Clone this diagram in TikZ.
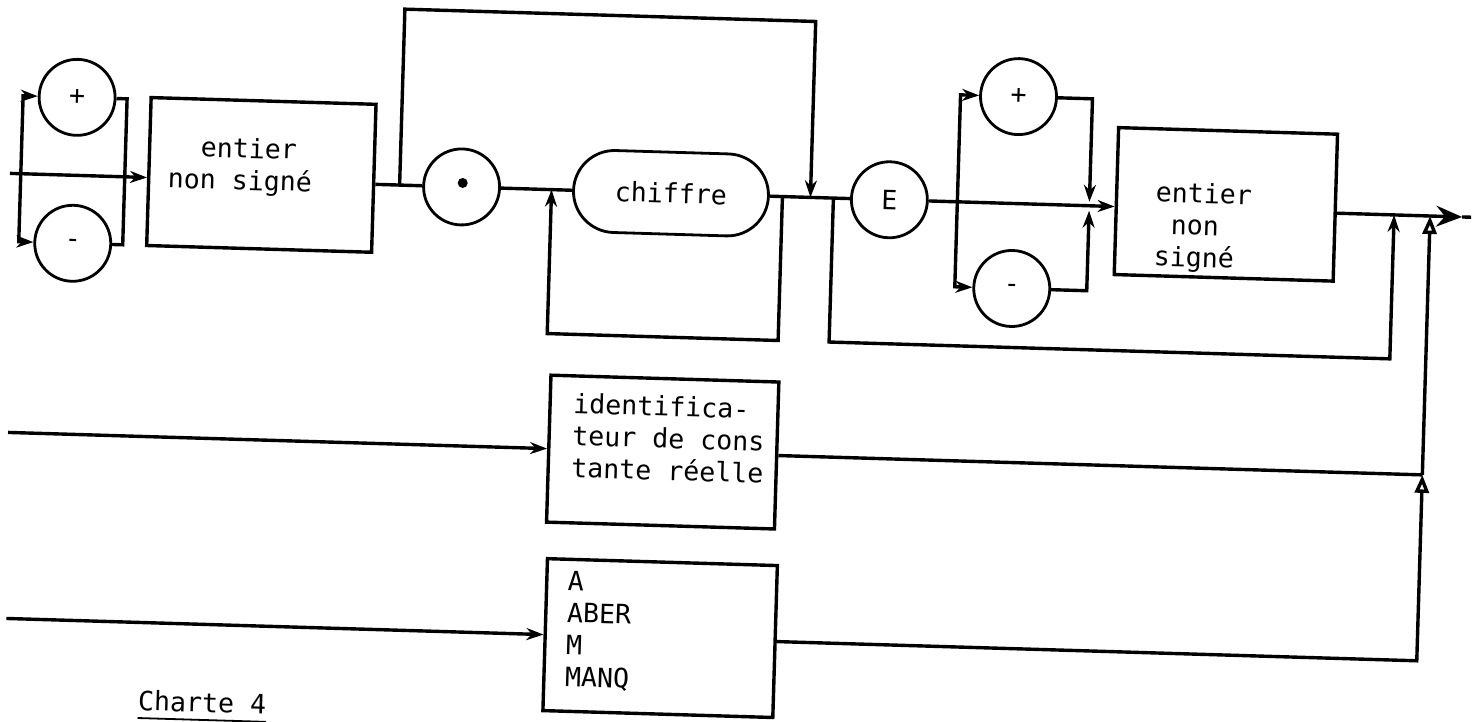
\documentclass[tikz,border=0pt]{standalone}
\usepackage{fontspec}
\newfontfamily\typw{DejaVu Sans Mono}
\usetikzlibrary{arrows.meta,calc}
\newcommand\chfont{\typw\fontsize{26.6pt}{32pt}\selectfont}
\newcommand\tlines[1]{\vtop{\baselineskip=32pt\lineskiplimit=-100pt #1}}
\tikzset{
  ln/.style={line width=3.4pt, line join=miter},
  arr/.style={ln, -{Stealth[length=17pt,width=12pt]}},
  colarr/.style={ln, -{Triangle[open,length=18pt,width=14pt]}},
  exitarr/.style={ln, -{Stealth[length=26pt,width=21pt,inset=9pt]}},
  circ/.style={draw, circle, line width=2.8pt, minimum size=76pt, inner sep=0pt, font=\chfont},
  box/.style={draw, rectangle, line width=3.4pt, inner sep=0pt},
  txt/.style={font=\chfont, inner sep=0pt, anchor=base west},
}
\begin{document}
\begin{tikzpicture}[x=1pt,y=-1pt]
\useasboundingbox (0,0) rectangle (1482,721);
\begin{scope}[transform canvas={rotate=-1.72}]
% ---------- first sign group ----------
\node[circ] (p1) at (80,95) {+};
\node[circ] (m1) at (80,241) {-};
\node[box, minimum width=225pt, minimum height=148pt] (b1) at (266.5,167) {};
\node[txt] (b1t) at (173,150.5) {\tlines{\hbox{\phantom{nn}entier}\hbox{non signé}}};
\coordinate (in1) at (15,173);
\coordinate (sL) at (26,173);
\coordinate (sR) at (130,173);
\draw[arr] (in1) -- (in1 -| b1.west);
\draw[arr] (sL) |- (p1.west);
\draw[arr] (sL) |- (m1.west);
\draw[ln] (p1.east) -| (sR);
\draw[ln] (m1.east) -| (sR);
% ---------- dot and digits ----------
\coordinate (j1) at (405,173);
\coordinate (t1) at (405,-3);
\coordinate (jr1) at (816,173);
\node[circ] (dot) at (467,173) {};
\fill (468,169) circle (5);
\node[draw, rounded corners=41pt, line width=2.8pt, minimum width=195pt, minimum height=82pt, inner sep=0pt, font=\chfont] (ch) at (676.5,173) {chiffre};
\draw[ln] (b1.east |- j1) -- (dot.west);
\draw[arr] (j1) -- (t1) -| (jr1);
\draw[ln] (dot.east) -- (ch.west);
\coordinate (lp1) at (557,173);
\coordinate (lp2) at (788,173);
\coordinate (lb) at (788,317);
\draw[arr] (lp2) -- (lb) -| (lp1);
% ---------- exponent ----------
\node[circ] (E) at (895,173) {E};
\draw[ln] (ch.east) -- (E.west);
\coordinate (j2) at (839,173);
\coordinate (j2b) at (839,317);
\coordinate (jr2) at (1400,173);
\draw[arr] (j2) -- (j2b) -| (jr2);
\node[circ] (p2) at (1021,66) {+};
\node[circ] (m2) at (1020,258) {-};
\coordinate (s2L) at (963,173);
\coordinate (s2Ra) at (1095,169);
\coordinate (s2Rb) at (1095,178);
\draw[arr] (s2L) |- (p2.west);
\draw[arr] (s2L) |- (m2.west);
\draw[arr] (p2.east) -| (s2Ra);
\draw[arr] (m2.east) -| (s2Rb);
\node[box, minimum width=219pt, minimum height=147pt] (b2) at (1231.5,167.5) {};
\node[txt] (b2t) at (1161,167) {\tlines{\hbox{entier}\hbox{\phantom{n}non}\hbox{signé}}};
\draw[arr] (E.east) -- (E.east -| b2.west);
% ---------- exit ----------
\coordinate (outA) at (1468,173);
\coordinate (out) at (1477,173);
\draw[exitarr] (b2.east |- out) -- (outA);
\draw[ln] (outA) -- (out);
% ---------- lower alternatives ----------
\node[box, minimum width=228pt, minimum height=147pt] (id) at (676,432) {};
\node[txt] (idt) at (585,396) {\tlines{\hbox{identifica-}\hbox{teur de cons}\hbox{tante réelle}}};
\node[box, minimum width=230pt, minimum height=152pt] (ab) at (679,618) {};
\node[txt] (abt) at (585,573) {\tlines{\hbox{A}\hbox{ABER}\hbox{M}\hbox{MANQ}}};
\coordinate (in2) at (21,432);
\coordinate (in3) at (25,618);
\coordinate (cTop) at (1436,173);
\coordinate (cMid) at (1436,432);
\coordinate (cBot) at (1436,618);
\draw[arr] (in2) -- (in2 -| id.west);
\draw[arr] (in3) -- (in3 -| ab.west);
\draw[ln] (id.east) -- (cMid);
\draw[colarr] (cMid) -- (cTop);
\draw[colarr] (ab.east) -- (cBot) -- (cMid);
% ---------- caption ----------
\node[txt] (ct) at (159,706) {Charte 4};
\draw[line width=1.8pt] ([yshift=-7pt]ct.south west) -- ([yshift=-7pt]ct.south east);
\end{scope}
\end{tikzpicture}
\end{document}
